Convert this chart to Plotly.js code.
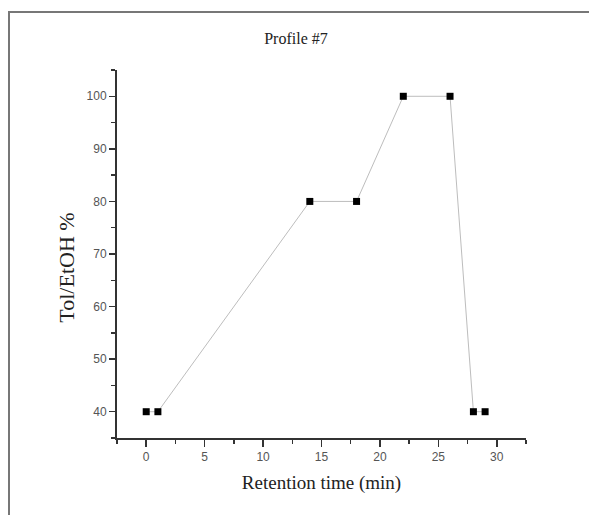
<!DOCTYPE html>
<html>
<head>
<meta charset="utf-8">
<script src="https://cdn.plot.ly/plotly-3.0.1.min.js"></script>
<style>
  html, body { margin: 0; padding: 0; background: #fff; }
  #wrap { position: relative; width: 589px; height: 515px; }
  #chart { width: 589px; height: 515px; }
  #frame { position: absolute; left: 8px; top: 11px; right: -4px; bottom: -4px;
           border-left: 2px solid #777; border-top: 2px solid #777; pointer-events: none; }
</style>
</head>
<body>
<div id="wrap">
  <div id="chart"></div>
  <div id="frame"></div>
</div>
<script>
const retentionTime = [0, 1, 14, 18, 22, 26, 28, 29];
const tolEtOH = [40, 40, 80, 80, 100, 100, 40, 40];
const xTicks = [0, 5, 10, 15, 20, 25, 30];
const yTicks = [40, 50, 60, 70, 80, 90, 100];

const trace = {
  x: retentionTime,
  y: tolEtOH,
  type: 'scatter',
  mode: 'lines+markers',
  line: { color: '#bdbdbd', width: 1 },
  marker: { symbol: 'square', size: 7, color: '#000' },
  showlegend: false,
  hoverinfo: 'x+y'
};

const axisFont = { family: 'Liberation Sans, Arial, sans-serif', size: 12, color: '#555' };
const serif = 'Liberation Serif, Times New Roman, serif';

const layout = {
  width: 589, height: 515,
  paper_bgcolor: '#fff', plot_bgcolor: '#fff',
  margin: { l: 117, r: 63, t: 70, b: 77 },
  title: {
    text: 'Profile #7',
    font: { family: serif, size: 16, color: '#222' },
    x: 296 / 589, xref: 'container', xanchor: 'center',
    y: 1 - 38 / 515, yref: 'container', yanchor: 'middle'
  },
  xaxis: {
    range: [-2.5, 32.5],
    tickvals: xTicks, ticktext: xTicks.map(String),
    ticks: 'outside', ticklen: 7, tickwidth: 1.5, tickcolor: '#333',
    minor: { dtick: 2.5, tick0: 0, ticks: 'outside', ticklen: 4, tickwidth: 1.5, tickcolor: '#333', showgrid: false },
    showline: true, linecolor: '#333', linewidth: 2,
    showgrid: false, zeroline: false,
    tickfont: axisFont,
    title: { text: 'Retention time (min)', standoff: 12,
      font: { family: serif, size: 19, color: '#222' } }
  },
  yaxis: {
    range: [35, 105],
    tickvals: yTicks, ticktext: yTicks.map(String),
    ticks: 'outside', ticklen: 6, tickwidth: 1.5, tickcolor: '#333',
    minor: { dtick: 5, tick0: 35, ticks: 'outside', ticklen: 4, tickwidth: 1.5, tickcolor: '#333', showgrid: false },
    showline: true, linecolor: '#333', linewidth: 2,
    showgrid: false, zeroline: false,
    tickfont: axisFont
  },
  annotations: [{
    text: 'Tol/EtOH %',
    xref: 'paper', yref: 'paper',
    x: -0.123, y: 0.462,
    xanchor: 'center', yanchor: 'middle',
    textangle: -90, showarrow: false,
    font: { family: serif, size: 22, color: '#222' }
  }]
};

Plotly.newPlot('chart', [trace], layout, { displayModeBar: false, staticPlot: true });
</script>
</body>
</html>
